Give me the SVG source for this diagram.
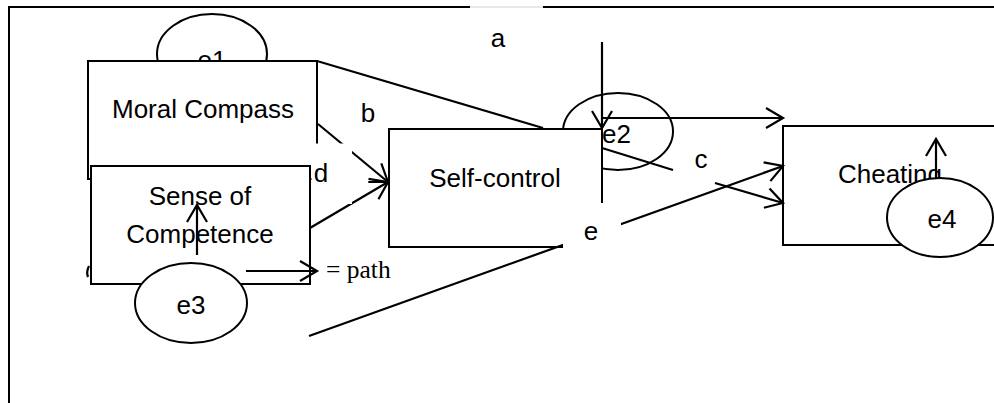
<svg xmlns="http://www.w3.org/2000/svg" width="994" height="403" viewBox="0 0 994 403">
<style>
.box{fill:#fff;stroke:#000;stroke-width:2}
.ell{fill:#fff;stroke:#000;stroke-width:2}
.t{font-family:"Liberation Sans",Arial,sans-serif;font-size:26px;fill:#000}
.m{text-anchor:middle}
.ln{fill:none;stroke:#000;stroke-width:2.2}
.bg{fill:#fff;stroke:none}
.frame{fill:none;stroke:#000;stroke-width:2}
</style>
<defs>
<marker id="arr" viewBox="0 0 20 22" refX="19" refY="11" markerWidth="20" markerHeight="22" markerUnits="userSpaceOnUse" orient="auto" overflow="visible">
<path d="M2,1 L19,11 L2,21" fill="none" stroke="#000" stroke-width="2.2"/>
</marker>
</defs>
<g id="frame">
<path class="frame" d="M9,403 V7 H470 M543,7 H994"/>
<path d="M470,7 H543" stroke="#d0d0d0" stroke-width="1" fill="none"/>
</g>
<g id="e1"><ellipse class="ell" cx="212" cy="54" rx="55" ry="40"/><text class="t m" x="212" y="69">e1</text></g>
<g id="moral"><rect class="box" x="88" y="61" width="229" height="118"/><text class="t m" x="203" y="118">Moral Compass</text></g>
<g id="sense"><rect class="box" x="91" y="166" width="219" height="118"/><text class="t m" x="200" y="205">Sense of</text><text class="t m" x="200" y="243">Competence</text></g>
<g id="e2"><ellipse class="ell" cx="618" cy="131.5" rx="55" ry="38.5"/></g>
<g id="selfcontrol"><rect class="box" x="389" y="129" width="213" height="118"/><text class="t m" x="495" y="187">Self-control</text></g>
<g id="e2label"><text class="t" x="602" y="143">e2</text></g>
<g id="cheating"><rect class="box" x="783" y="126" width="220" height="119"/><text class="t m" x="890" y="183">Cheating</text></g>
<g id="e4"><ellipse class="ell" cx="940" cy="217.5" rx="53" ry="39.5"/><text class="t m" x="942" y="228">e4</text></g>
<g id="e3"><ellipse class="ell" cx="191" cy="303" rx="56" ry="40"/><text class="t m" x="191" y="314">e3</text></g>
<g id="connectors">
<line class="ln" x1="317" y1="61" x2="543" y2="128"/>
<line class="ln" x1="602" y1="42" x2="602" y2="128" marker-end="url(#arr)"/>
<line class="ln" x1="602" y1="118" x2="783" y2="118" marker-end="url(#arr)"/>
<line class="ln" x1="318" y1="124" x2="388" y2="182" marker-end="url(#arr)"/>
<line class="ln" x1="310" y1="228" x2="388" y2="182" marker-end="url(#arr)"/>
<line class="ln" x1="602" y1="148" x2="673" y2="170"/>
<line class="ln" x1="715" y1="183" x2="783" y2="203" marker-end="url(#arr)"/>
<line class="ln" x1="309" y1="336" x2="783" y2="166" marker-end="url(#arr)"/>
<line class="ln" x1="197" y1="255" x2="197" y2="205" marker-end="url(#arr)"/>
<line class="ln" x1="936" y1="178" x2="936" y2="139" marker-end="url(#arr)"/>
<line class="ln" x1="246" y1="271" x2="317" y2="271" marker-end="url(#arr)"/>
<path class="ln" d="M89,266 Q86,272 88,277"/>
</g>
<g id="labels">
<rect class="bg" x="311.5" y="143.5" width="40.5" height="60.5"/>
<rect class="bg" x="563" y="203" width="58" height="49"/>
<text class="t m" x="498" y="47">a</text>
<text class="t m" x="368" y="122">b</text>
<text class="t m" x="701" y="168">c</text>
<text class="t m" x="321" y="182">d</text>
<text class="t m" x="591" y="240">e</text>
</g>
<g id="legend"><text x="326" y="278" font-family="'Liberation Serif','Times New Roman',serif" font-size="25.5">= path</text></g>
</svg>
